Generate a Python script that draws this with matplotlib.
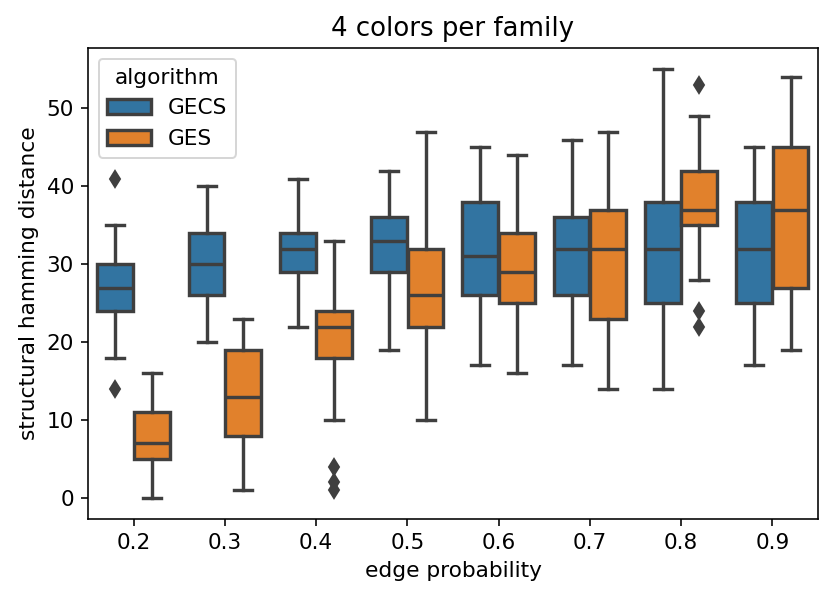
import numpy as np
import matplotlib.pyplot as plt
from matplotlib.patches import Patch

edge_probs = ['0.2', '0.3', '0.4', '0.5', '0.6', '0.7', '0.8', '0.9']
algorithms = ['GECS', 'GES']
colors = ['#3274a1', '#e1812c']

# whislo, q1, median, q3, whishi per edge probability
gecs_low = [18, 20, 22, 19, 17, 17, 14, 17]
gecs_q1 = [24, 26, 29, 29, 26, 26, 25, 25]
gecs_med = [27, 30, 32, 33, 31, 32, 32, 32]
gecs_q3 = [30, 34, 34, 36, 38, 36, 38, 38]
gecs_high = [35, 40, 41, 42, 45, 46, 55, 45]
gecs_fliers = [[41, 14], [], [], [], [], [], [], []]

ges_low = [0, 1, 10, 10, 16, 14, 28, 19]
ges_q1 = [5, 8, 18, 22, 25, 23, 35, 27]
ges_med = [7, 13, 22, 26, 29, 32, 37, 37]
ges_q3 = [11, 19, 24, 32, 34, 37, 42, 45]
ges_high = [16, 23, 33, 47, 44, 47, 49, 54]
ges_fliers = [[], [], [4, 2, 1], [], [], [], [53, 24, 22], []]

series = [
    (gecs_low, gecs_q1, gecs_med, gecs_q3, gecs_high, gecs_fliers),
    (ges_low, ges_q1, ges_med, ges_q3, ges_high, ges_fliers),
]

plt.rcParams['font.size'] = 10.8
plt.rcParams['axes.titlesize'] = 13

fig, ax = plt.subplots(figsize=(830 / 144, 601 / 144), dpi=144)
fig.subplots_adjust(left=0.106, right=0.9855, top=0.92, bottom=0.136)

gray = '#3f3f3f'
lw = 1.7
width = 0.8 / 2
x = np.arange(len(edge_probs))
for k, (lo, q1, med, q3, hi, fl) in enumerate(series):
    stats = []
    for i in range(len(edge_probs)):
        stats.append(dict(whislo=lo[i], q1=q1[i], med=med[i], q3=q3[i],
                          whishi=hi[i], fliers=fl[i]))
    pos = x - 0.2 + k * width
    ax.bxp(stats, positions=pos, widths=width * 0.98, patch_artist=True,
           manage_ticks=False,
           boxprops=dict(facecolor=colors[k], edgecolor=gray, linewidth=lw),
           medianprops=dict(color=gray, linewidth=lw),
           whiskerprops=dict(color=gray, linewidth=lw),
           capprops=dict(color=gray, linewidth=lw),
           flierprops=dict(marker='d', markerfacecolor=gray, markeredgecolor=gray,
                           markersize=6))

ax.set_xticks(x)
ax.set_xticklabels(edge_probs)
ax.set_xlim(-0.5, len(edge_probs) - 0.5)
ax.set_ylim(-2.75, 57.75)
ax.set_xlabel('edge probability')
ax.set_ylabel('structural hamming distance')
ax.set_title('4 colors per family')

handles = [Patch(facecolor=c, edgecolor=gray, linewidth=lw) for c in colors]
ax.legend(handles, algorithms, title='algorithm', loc='upper left')

fig.savefig('out.png', dpi=144)
